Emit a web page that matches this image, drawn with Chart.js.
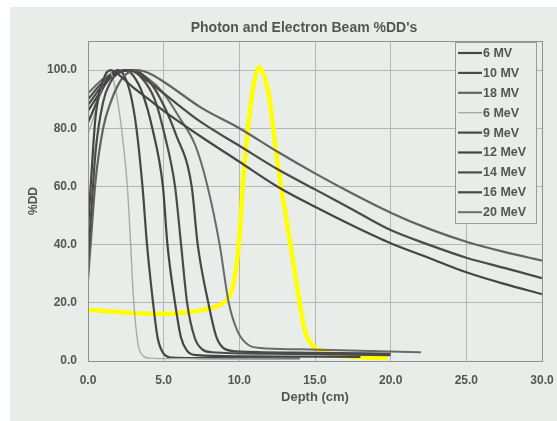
<!DOCTYPE html>
<html>
<head>
<meta charset="utf-8">
<script src="https://cdn.jsdelivr.net/npm/chart.js@4.4.1/dist/chart.umd.min.js"></script>
<style>
  html, body { margin: 0; padding: 0; background: #ffffff; }
  #wrap { width: 557px; height: 421px; }
</style>
</head>
<body>
<div id="wrap"><canvas id="c" width="557" height="421"></canvas></div>
<script>
// ---- data ----
const chartTitle = "Photon and Electron Beam %DD's";
const xTitle = "Depth (cm)";
const yTitle = "%DD";
const xTicks = [0, 5, 10, 15, 20, 25, 30];
const yTicks = [0, 20, 40, 60, 80, 100];

const seriesNames = ["6 MV", "10 MV", "18 MV", "6 MeV", "9 MeV", "12 MeV", "14 MeV", "16 MeV", "20 MeV"];

const mv6Depth  = [0, 0.2, 0.5, 1.0, 1.5, 2.0, 3.0, 4.0, 5.0, 7.5, 10, 12.5, 15, 17.5, 20, 22.5, 25, 27.5, 30];
const mv6Dose   = [45, 62, 84, 96.5, 100, 98.5, 94, 90, 86, 77, 68.5, 60, 53, 46.5, 40.5, 35.5, 30.5, 26.5, 23];

const mv10Depth = [0, 0.2, 0.5, 1.0, 1.5, 2.0, 2.5, 3.0, 4.0, 5.0, 7.5, 10, 12.5, 15, 17.5, 20, 22.5, 25, 27.5, 30];
const mv10Dose  = [35, 50, 72, 89, 96, 99, 100, 99.5, 96, 92, 82, 74, 66, 59, 52, 45, 40, 35.5, 32, 28.5];

const mv18Depth = [0, 0.2, 0.5, 1.0, 1.5, 2.0, 2.5, 3.3, 4.0, 5.0, 7.5, 10, 12.5, 15, 17.5, 20, 22.5, 25, 27.5, 30];
const mv18Dose  = [28, 42, 62, 80, 89, 95, 98.5, 100, 99, 96, 87, 80, 72, 64.5, 57.5, 51, 45.5, 41, 37.5, 34.5];

const mev6Depth  = [0, 0.5, 1.0, 1.3, 1.6, 2.0, 2.3, 2.6, 2.8, 3.0, 3.3, 3.6, 4.0, 6, 10, 14];
const mev6Dose   = [78, 86, 96, 100, 98, 88, 76, 60, 42, 22, 6, 2, 1, 0.8, 0.7, 0.6];

const mev9Depth  = [0, 0.5, 1.0, 1.5, 2.0, 2.4, 2.8, 3.2, 3.6, 3.9, 4.3, 4.6, 5.0, 5.5, 8, 14];
const mev9Dose   = [82, 88, 94, 98.5, 100, 98, 92, 80, 60, 40, 20, 8, 2.5, 1.2, 1.0, 0.8];

const mev12Depth = [0, 0.5, 1.0, 1.5, 2.0, 2.5, 3.0, 3.6, 4.25, 4.95, 5.25, 5.75, 6.15, 6.55, 7.2, 10, 18];
const mev12Dose  = [86, 90, 94, 97.5, 99.5, 100, 98, 92, 80, 60, 40, 20, 8, 3.5, 2.0, 1.6, 1.4];

const mev14Depth = [0, 1.0, 2.0, 2.8, 3.6, 4.4, 5.05, 5.75, 6.15, 6.55, 7.05, 7.55, 8.2, 12, 20];
const mev14Dose  = [88, 95, 99, 100, 97, 90, 78, 60, 40, 20, 8, 4, 3, 2.5, 2.0];

const mev16Depth = [0, 1.0, 2.0, 3.0, 3.9, 4.8, 5.8, 6.85, 7.25, 7.95, 8.5, 9.1, 10.2, 15, 20];
const mev16Dose  = [90, 96, 99.5, 100, 97, 90, 78, 60, 40, 20, 8, 4, 3.2, 2.8, 2.5];

const mev20Depth = [0, 1.0, 2.0, 2.8, 4.0, 5.0, 6.0, 7.1, 7.9, 8.7, 9.3, 9.9, 10.6, 11.4, 14, 18, 22];
const mev20Dose  = [92, 97, 99.5, 100, 97, 92, 84, 74, 60, 40, 20, 10, 5.5, 4.5, 4, 3.5, 3];

const protonDepth = [0, 1, 2, 3, 4, 5, 6, 7, 8, 8.8, 9.3, 9.6, 10.0, 10.3, 10.8, 11.3, 11.7, 12.0, 12.5, 13.2, 13.9, 14.3, 14.8, 15.5, 16.5, 18, 19.8];
const protonDose  = [17.5, 17.2, 16.8, 16.5, 16.2, 16.2, 16.5, 17, 18, 19.5, 22, 26, 42, 65, 90, 101, 97, 90, 69, 46, 23, 11, 5.5, 3.2, 2, 1.3, 1];

// ---- styling ----
const seriesColors = ["#454545", "#4a4a4a", "#636363", "#a9aaa9", "#474747", "#444444", "#4b4b4b", "#484848", "#6a6a6a"];
const seriesWidths = [2.2, 2.2, 2.2, 1.4, 2.2, 2.2, 2.2, 2.2, 2.0];
const textColor = "#555555";
const panelColor = "#e9ede9";
const gridColor = "#b3b6b3";

function pts(xs, ys) { return xs.map((x, i) => ({ x: x, y: ys[i] })); }

const seriesData = [
  pts(mv6Depth, mv6Dose), pts(mv10Depth, mv10Dose), pts(mv18Depth, mv18Dose),
  pts(mev6Depth, mev6Dose), pts(mev9Depth, mev9Dose), pts(mev12Depth, mev12Dose),
  pts(mev14Depth, mev14Dose), pts(mev16Depth, mev16Dose), pts(mev20Depth, mev20Dose)
];

const datasets = seriesNames.map((name, i) => ({
  label: name,
  data: seriesData[i],
  borderColor: seriesColors[i],
  borderWidth: seriesWidths[i],
  showLine: true,
  pointRadius: 0,
  fill: false,
  cubicInterpolationMode: 'monotone'
}));
datasets.push({
  label: "Proton",
  data: pts(protonDepth, protonDose),
  borderColor: "#ffff00",
  borderWidth: 4.5,
  showLine: true,
  pointRadius: 0,
  fill: false,
  cubicInterpolationMode: 'monotone',
  hideInLegend: true
});

const FONT = "'Liberation Sans', Arial, sans-serif";

const decorPlugin = {
  id: 'decor',
  beforeDraw(chart) {
    const ctx = chart.ctx;
    ctx.save();
    ctx.fillStyle = "#ffffff";
    ctx.fillRect(0, 0, chart.width, chart.height);
    ctx.fillStyle = panelColor;
    ctx.fillRect(10, 7, chart.width - 10, chart.height - 7);
    ctx.restore();
  },
  afterDraw(chart) {
    const ctx = chart.ctx;
    const a = chart.chartArea;
    ctx.save();
    // frame
    ctx.strokeStyle = "#8f928f";
    ctx.lineWidth = 1;
    ctx.strokeRect(Math.round(a.left) + 0.5, Math.round(a.top) + 0.5, Math.round(a.right - a.left), Math.round(a.bottom - a.top));
    // title
    ctx.fillStyle = textColor;
    ctx.font = "bold 14px " + FONT;
    ctx.textAlign = "center";
    ctx.textBaseline = "middle";
    ctx.fillText(chartTitle, 304, 28);
    // legend
    const lx = 455, ly = a.top + 1, lw = 81, lh = 181;
    ctx.fillStyle = panelColor;
    ctx.fillRect(lx, ly, lw, lh);
    ctx.strokeStyle = "#9a9d9a";
    ctx.strokeRect(lx + 0.5, ly + 0.5, lw, lh);
    ctx.font = "bold 12.5px " + FONT;
    ctx.textAlign = "left";
    chart.data.datasets.forEach((ds, i) => {
      if (ds.hideInLegend) return;
      const y = 53 + i * 19.9;
      ctx.strokeStyle = ds.borderColor;
      ctx.lineWidth = ds.borderWidth;
      ctx.beginPath();
      ctx.moveTo(458, y);
      ctx.lineTo(482, y);
      ctx.stroke();
      ctx.fillStyle = textColor;
      ctx.fillText(ds.label, 483, y + 0.5);
    });
    ctx.restore();
  }
};

new Chart(document.getElementById('c'), {
  type: 'scatter',
  data: { datasets: datasets },
  plugins: [decorPlugin],
  options: {
    responsive: false,
    devicePixelRatio: 1,
    animation: false,
    layout: { padding: { top: 41, right: 15, left: 0, bottom: 0 } },
    plugins: { legend: { display: false }, title: { display: false }, tooltip: { enabled: false } },
    scales: {
      x: {
        type: 'linear', min: 0, max: 30,
        afterBuildTicks: (s) => { s.ticks = xTicks.map(v => ({ value: v })); },
        afterFit: (s) => { s.height = 60; s.paddingLeft = 0; s.paddingRight = 0; },
        grid: { color: gridColor, drawTicks: false },
        border: { display: false },
        ticks: { padding: 12, color: textColor, font: { family: FONT, size: 12, weight: 'bold' }, callback: (v) => Number(v).toFixed(1) },
        title: { display: true, text: xTitle, color: textColor, font: { family: FONT, size: 13, weight: 'bold' }, padding: { top: 0, bottom: 16 } }
      },
      y: {
        type: 'linear', min: 0, max: 110,
        afterBuildTicks: (s) => { s.ticks = yTicks.map(v => ({ value: v })); },
        afterFit: (s) => { s.width = 88; s.paddingTop = 0; s.paddingBottom = 0; },
        grid: { color: gridColor, drawTicks: false },
        border: { display: false },
        ticks: { padding: 11, color: textColor, font: { family: FONT, size: 12, weight: 'bold' }, callback: (v) => Number(v).toFixed(1) },
        title: { display: true, text: yTitle, color: textColor, font: { family: FONT, size: 12, weight: 'bold' }, padding: { top: 26, bottom: 0 } }
      }
    }
  }
});
</script>
</body>
</html>
